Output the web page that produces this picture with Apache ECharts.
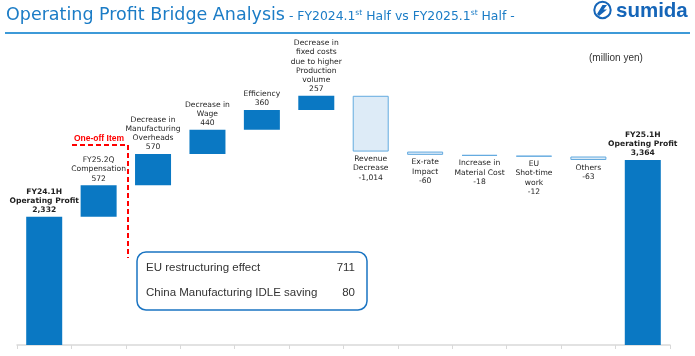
<!DOCTYPE html>
<html><head><meta charset="utf-8">
<script src="https://cdn.jsdelivr.net/npm/echarts@6/dist/echarts.min.js"></script>
<style>html,body{margin:0;padding:0;background:#fff}#c{width:695px;height:356px}</style>
</head><body><div id="c"></div>
<script>
const categories = [
  "FY24.1H\nOperating Profit",
  "FY25.2Q\nCompensation",
  "Decrease in\nManufacturing\nOverheads",
  "Decrease in\nWage",
  "Efficiency",
  "Decrease in\nfixed costs\ndue to higher\nProduction\nvolume",
  "Revenue\nDecrease",
  "Ex-rate\nImpact",
  "Increase in\nMaterial Cost",
  "EU\nShot-time\nwork",
  "Others",
  "FY25.1H\nOperating Profit"
];
const deltas = [2332, 572, 570, 440, 360, 257, -1014, -60, -18, -12, -63, 3364];
const isTotal = [true, false, false, false, false, false, false, false, false, false, false, true];
const boxItems = ["EU restructuring effect", "China Manufacturing IDLE saving"];
const boxValues = [711, 80];

const DARK = '#0a78c3', LIGHT = '#ddebf7', LIGHTB = '#63aadf', TBLUE = '#1b7cc6';
const fmt = v => (v < 0 ? '-' : '') + Math.abs(v).toLocaleString('en-US');

const base = [], vis = [];
let cum = 0;
deltas.forEach((d, i) => {
  if (isTotal[i]) { base.push(0); cum = d; vis.push({value: d}); }
  else if (d >= 0) { base.push(cum); cum += d; vis.push({value: d}); }
  else { cum += d; base.push(cum); vis.push({value: -d, neg: true}); }
});
const visData = vis.map((o, i) => ({
  value: o.value,
  itemStyle: o.neg ? {color: LIGHT, borderColor: LIGHTB, borderWidth: 1} : {color: DARK},
  label: {
    position: o.neg ? 'bottom' : 'top',
    distance: o.neg ? 3 : 2,
    fontWeight: isTotal[i] ? 'bold' : 'normal',
    formatter: () => categories[i] + '\n' + fmt(deltas[i])
  }
}));

// title pieces with superscripts
const TF = 'DejaVu Sans';
const cv = document.createElement('canvas').getContext('2d');
const w = (t, s) => { cv.font = s + 'px "' + TF + '"'; return cv.measureText(t).width; };
const titleParts = [
  ['Operating Profit Bridge Analysis', 17.5, 15.2],
  [' - FY2024.1', 12.4, 16.8],
  ['st', 7.6, 13.5],
  [' Half vs FY2025.1', 12.4, 16.8],
  ['st', 7.6, 13.5],
  [' Half -', 12.4, 16.8]
];
let tx = 6;
const titleEls = titleParts.map(([t, s, y]) => {
  const el = {type: 'text', x: tx, y: y, style: {text: t, fontFamily: TF, fontSize: s, fill: TBLUE, verticalAlign: 'middle'}};
  tx += w(t, s);
  return el;
});

const chart = echarts.init(document.getElementById('c'), null, {renderer: 'canvas'});
const FONT = 'Liberation Sans';
chart.setOption({
  animation: false,
  grid: {left: 17, right: 25, bottom: 11, top: 70},
  xAxis: {
    type: 'category', data: categories.map((c, i) => 'c' + i),
    axisLine: {lineStyle: {color: '#d9d9d9', width: 1.5}},
    axisTick: {show: true, length: 4, lineStyle: {color: '#d9d9d9'}},
    axisLabel: {show: false}
  },
  yAxis: {type: 'value', min: 0, max: 5000, show: false, splitLine: {show: false}},
  series: [
    {type: 'bar', stack: 's', data: base, itemStyle: {color: 'transparent'}, barWidth: 36, silent: true},
    {type: 'bar', stack: 's', data: visData, barWidth: 36,
      label: {show: true, color: '#1f1f1f', fontFamily: TF, fontSize: 7.6, lineHeight: 9.2, align: 'center'}}
  ],
  graphic: titleEls.concat([
    {type: 'line', shape: {x1: 5, y1: 33, x2: 690, y2: 33}, style: {stroke: '#3d9ad8', lineWidth: 2}},
    {type: 'circle', shape: {cx: 602.5, cy: 10, r: 8.2}, style: {fill: 'none', stroke: '#1565b8', lineWidth: 2}},
    {type: 'polygon', shape: {points: [[597,14],[602.5,5],[607,5],[603.5,9.5],[607,9.5],[599,16]]}, style: {fill: '#1565b8'}},
    {type: 'text', x: 616, y: 17.3, style: {text: 'sumida', fontFamily: FONT, fontSize: 20.5, fontWeight: 'bold', fill: '#1565b8', verticalAlign: 'bottom', lineHeight: 20, padding: [0,0,-4,0]}},
    {type: 'text', left: 589, top: 53, style: {text: '(million yen)', fontFamily: FONT, fontSize: 10, fill: '#333'}},
    {type: 'polyline', shape: {points: [[72,145],[128,145],[128,258]]}, style: {stroke: '#ff0000', lineWidth: 2, lineDash: [5, 3], fill: 'none'}},
    {type: 'text', x: 99, y: 139, style: {text: 'One-off Item', fontFamily: FONT, fontSize: 8.5, fontWeight: 'bold', fill: '#ff0000', align: 'center', verticalAlign: 'middle'}},
    {type: 'rect', shape: {x: 137, y: 252, width: 230, height: 58, r: 9}, style: {fill: '#fff', stroke: '#1a74c2', lineWidth: 1.5}},
    {type: 'text', x: 146, y: 268, style: {text: boxItems[0], fontFamily: FONT, fontSize: 11.5, fill: '#333', verticalAlign: 'middle'}},
    {type: 'text', x: 355, y: 268, style: {text: String(boxValues[0]), fontFamily: FONT, fontSize: 11.5, fill: '#333', align: 'right', verticalAlign: 'middle'}},
    {type: 'text', x: 146, y: 293, style: {text: boxItems[1], fontFamily: FONT, fontSize: 11.5, fill: '#333', verticalAlign: 'middle'}},
    {type: 'text', x: 355, y: 293, style: {text: String(boxValues[1]), fontFamily: FONT, fontSize: 11.5, fill: '#333', align: 'right', verticalAlign: 'middle'}}
  ])
});
</script></body></html>
